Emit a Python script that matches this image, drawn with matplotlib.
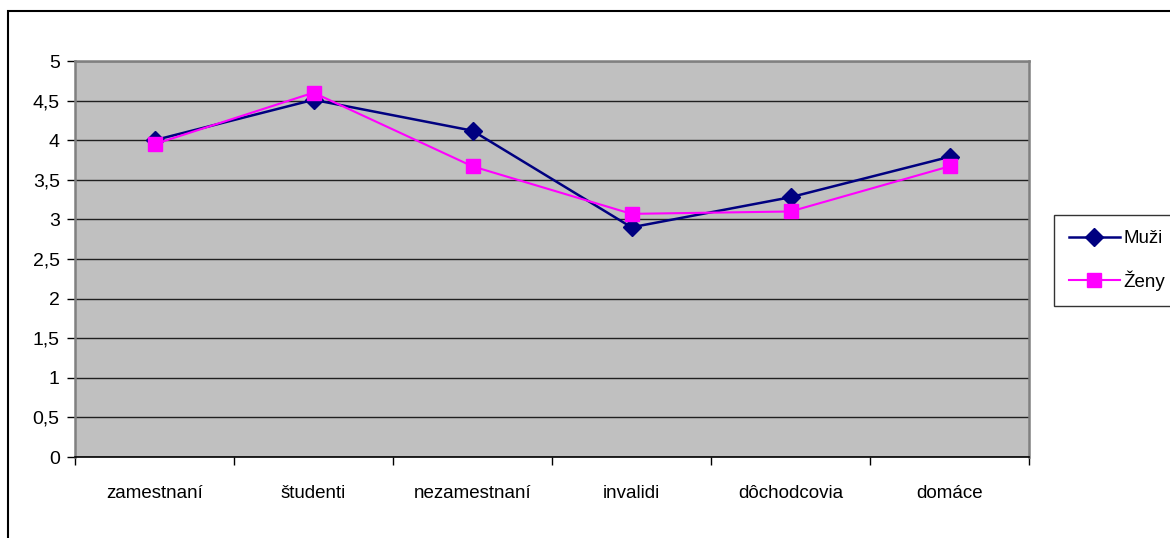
import matplotlib.pyplot as plt
from matplotlib.patches import Rectangle

# data
categories = ["zamestnaní", "študenti", "nezamestnaní", "invalidi", "dôchodcovia", "domáce"]
muzi = [4.0, 4.51, 4.12, 2.90, 3.28, 3.79]
zeny = [3.95, 4.60, 3.67, 3.07, 3.10, 3.67]
y_ticks = [0, 0.5, 1, 1.5, 2, 2.5, 3, 3.5, 4, 4.5, 5]
y_tick_labels = ["0", "0,5", "1", "1,5", "2", "2,5", "3", "3,5", "4", "4,5", "5"]

plt.rcParams["font.family"] = ["Liberation Sans", "DejaVu Sans"]
FS = 13.5

fig = plt.figure(figsize=(11.7, 5.38), dpi=100)
W, H = 1170, 538

# outer chart frame (only left and top edges are visible)
fig.add_artist(Rectangle((8 / W, -0.2), 1.5, (1 - 11 / H) + 0.2, transform=fig.transFigure,
                         fill=False, edgecolor="black", linewidth=1.5, clip_on=True))

ax = fig.add_axes([75 / W, (H - 457) / H, (1029 - 75) / W, 396 / H])
ax.set_facecolor("#C0C0C0")

x = list(range(len(categories)))
ax.plot(x, muzi, color="#000080", linewidth=1.8, marker="D", markersize=9.5,
        label="Muži", zorder=3)
ax.plot(x, zeny, color="#FF00FF", linewidth=1.5, marker="s", markersize=10,
        label="Ženy", zorder=4)

ax.set_xlim(-0.5, len(categories) - 0.5)
ax.set_ylim(0, 5)

# y axis
ax.set_yticks(y_ticks)
ax.set_yticklabels(y_tick_labels, fontsize=14)
ax.tick_params(axis="y", direction="out", length=6, width=1, pad=5, color="black")
ax.yaxis.grid(True, color="#202020", linewidth=1)
ax.set_axisbelow(True)

# x axis: ticks on the boundaries, labels at the centres
ax.set_xticks([i - 0.5 for i in range(len(categories) + 1)])
ax.set_xticklabels([])
ax.set_xticks(x, minor=True)
ax.set_xticklabels(categories, minor=True, fontsize=FS)
ax.tick_params(axis="x", which="major", direction="out", length=6, width=1, color="black")
ax.tick_params(axis="x", which="minor", length=0, pad=20)

for side in ["top", "right", "left"]:
    ax.spines[side].set_color("#808080")
    ax.spines[side].set_linewidth(1.8)
ax.spines["bottom"].set_color("black")
ax.spines["bottom"].set_linewidth(1.2)

leg = fig.legend(loc="upper left", bbox_to_anchor=(1054 / W, 1 - 215 / H),
                 fontsize=FS, frameon=True, fancybox=False, borderpad=0.8,
                 labelspacing=1.24, handlelength=2.7, handletextpad=0.2,
                 borderaxespad=0)
leg.get_frame().set_edgecolor("black")
leg.get_frame().set_linewidth(1)

fig.savefig("out.png", dpi=100)
